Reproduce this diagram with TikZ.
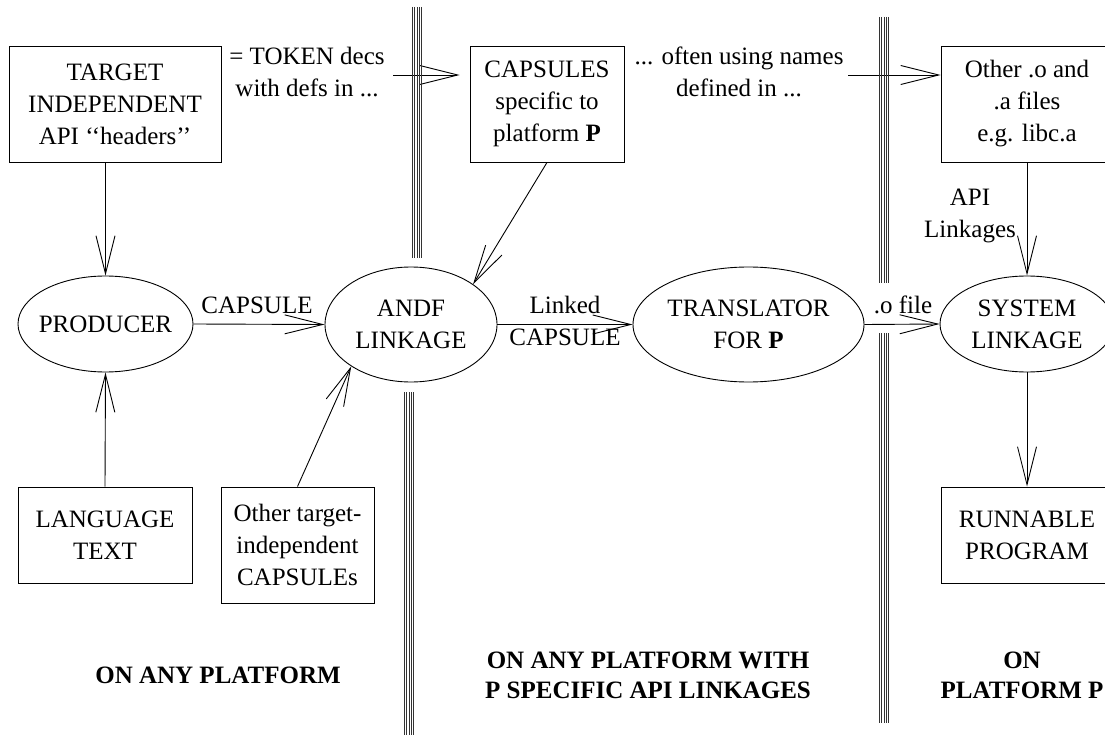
\documentclass[tikz,border=0pt]{standalone}
\usepackage{fontspec}
\setmainfont{Liberation Serif}
\usetikzlibrary{shapes.geometric,arrows.meta}
\begin{document}
\begin{tikzpicture}[x=1pt,y=-1pt, line width=0.9pt,
  every node/.style={font=\fontsize{25}{32}\selectfont, align=center, inner sep=0pt},
  arr/.style={-{Straight Barb[length=38pt,width=19pt]}},
  box/.style={draw, rectangle},
  oval/.style={draw, ellipse},
  boldlabel/.style={font=\fontsize{25}{30}\selectfont\bfseries},
  barline/.style={line width=0.8pt, black!80}]
\useasboundingbox (0,0) rectangle (1105,735);
\clip (0,0) rectangle (1105,735);

% boxes
\node[box, minimum width=212pt, minimum height=116pt] (tgt) at (115,104) {TARGET\\INDEPENDENT\\API \char"2018\char"2018 headers\char"2019\char"2019};
\node[box, minimum width=154pt, minimum height=116pt] (caps) at (547,104) {CAPSULES\\specific to\\platform \textbf{P}};
\node[box, minimum width=172pt, minimum height=116pt] (other) at (1027,104) {Other .o and\\.a files\\e.g. libc.a};
\node[box, minimum width=174pt, minimum height=96pt] (lang) at (105,535) {LANGUAGE\\TEXT};
\node[box, minimum width=153pt, minimum height=116pt] (othtgt) at (297.5,545) {Other target-\\independent\\CAPSULEs};
\node[box, minimum width=172pt, minimum height=96pt] (run) at (1027,535) {RUNNABLE\\PROGRAM};

% ellipses
\node[oval, minimum width=175pt, minimum height=96pt, label={center:PRODUCER}] (prod) at (105.5,324) {};
\node[oval, minimum width=172pt, minimum height=115pt, label={center:{ANDF\\LINKAGE}}] (andf) at (411,324.5) {};
\node[oval, minimum width=231pt, minimum height=115pt, label={center:{TRANSLATOR\\FOR \textbf{P}}}] (trans) at (748.5,324.5) {};
\node[oval, minimum width=174pt, minimum height=96pt, label={center:{SYSTEM\\LINKAGE}}] (sys) at (1027,324) {};

% text labels
\node (tok) at (307,72) {= TOKEN decs\\with defs in ...};
\node (often) at (739,72) {... often using names\\defined in ...};
\node (caplbl) at (257,305) {CAPSULE};
\node (linked) at (565,321) {Linked\\CAPSULE};
\node (ofile) at (903,305) {.o file};
\node (apil) at (970,216) {API\\Linkages};
\coordinate (tokend) at (393,75);
\coordinate (oftend) at (848,75);

% connectors
\draw[arr] (prod.north |- tgt.south) -- (prod.north);
\draw[arr] (lang.north) -- (prod.south);
\draw[arr] (prod.east) -- (andf.west);
\draw[arr] (caps.south) -- (andf.33);
\draw[arr] (othtgt.north) -- (andf.215);
\draw[arr] (andf.east) -- (trans.west);
\draw[arr] (trans.east) -- (sys.west);
\draw[arr] (other.south) -- (sys.north);
\draw[arr] (sys.south) -- (run.north);
\draw[arr, shorten >=10pt] (tokend) -- (caps.west |- tokend);
\draw[arr] (oftend) -- (other.west |- oftend);

% separating bars
\foreach \i in {0,...,4} {
  \draw[barline] ({412.5+\i*2.2},7) -- ({412.5+\i*2.2},258);
  \draw[barline] ({404.5+\i*2.2},392) -- ({404.5+\i*2.2},735);
  \draw[barline] ({879.5+\i*2.2},17) -- ({879.5+\i*2.2},283);
  \draw[barline] ({879.5+\i*2.2},333) -- ({879.5+\i*2.2},723);
}

% bottom captions
\node[boldlabel] (cap1) at (218,675) {ON ANY PLATFORM};
\node[boldlabel] (cap2) at (648,675) {ON ANY PLATFORM WITH\\P SPECIFIC API LINKAGES};
\node[boldlabel] (cap3) at (1022,675) {ON\\PLATFORM P};
\end{tikzpicture}
\end{document}
